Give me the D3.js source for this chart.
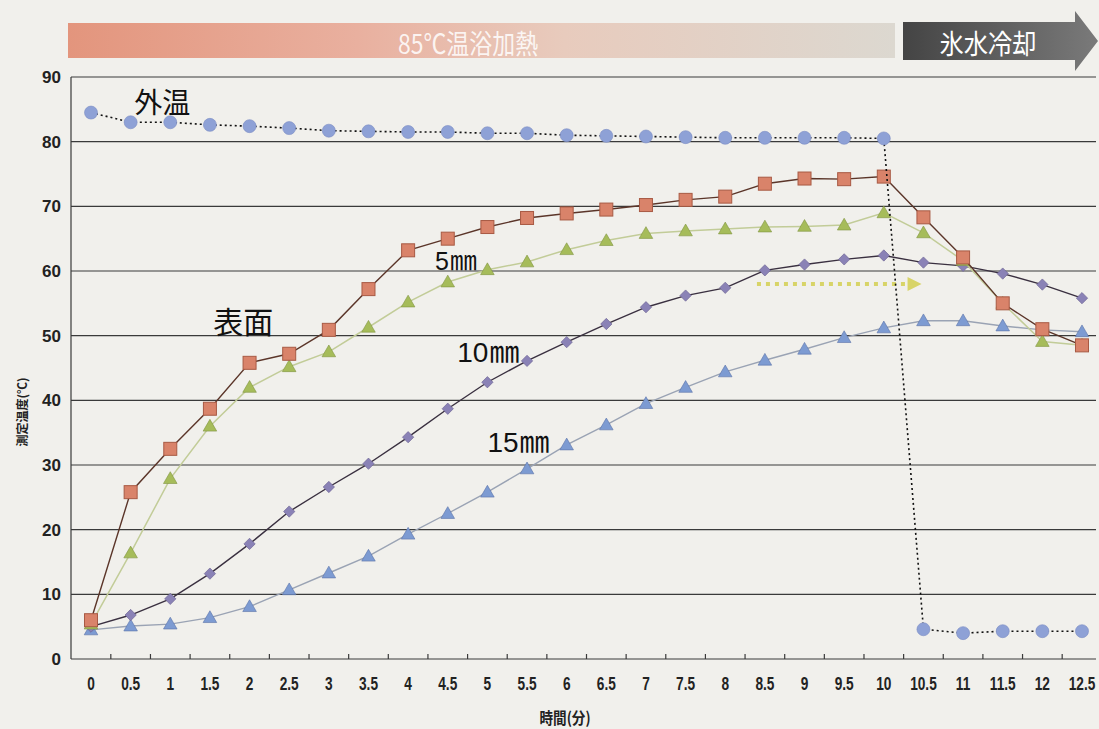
<!DOCTYPE html>
<html><head><meta charset="utf-8">
<script src="https://cdn.jsdelivr.net/npm/d3@7"></script>
<style>html,body{margin:0;padding:0;background:#f1f0ec;}svg{display:block;}</style>
</head><body><svg id="c" width="1099" height="729"></svg>
<script>
const times = [0,0.5,1,1.5,2,2.5,3,3.5,4,4.5,5,5.5,6,6.5,7,7.5,8,8.5,9,9.5,10,10.5,11,11.5,12,12.5];
const xTickLabels = ["0","0.5","1","1.5","2","2.5","3","3.5","4","4.5","5","5.5","6","6.5","7","7.5","8","8.5","9","9.5","10","10.5","11","11.5","12","12.5"];
const yTicks = [0,10,20,30,40,50,60,70,80,90];
const outside = [84.5,83.0,83.0,82.6,82.4,82.1,81.7,81.6,81.5,81.5,81.3,81.3,81.0,80.9,80.8,80.7,80.6,80.6,80.6,80.6,80.5,4.6,4.0,4.3,4.3,4.3];
const surface = [6.0,25.8,32.5,38.7,45.8,47.2,50.9,57.2,63.2,65.0,66.8,68.2,68.9,69.5,70.2,71.0,71.5,73.5,74.3,74.2,74.6,68.3,62.1,55.0,51.0,48.5];
const mm5 = [5.4,16.4,27.9,36.0,42.0,45.2,47.5,51.3,55.2,58.3,60.2,61.4,63.3,64.7,65.8,66.2,66.5,66.8,66.9,67.1,69.0,65.9,61.6,55.0,49.1,48.5];
const mm10 = [5.0,6.8,9.3,13.2,17.8,22.8,26.6,30.2,34.3,38.7,42.8,46.1,49.0,51.8,54.4,56.2,57.4,60.1,61.0,61.8,62.4,61.3,60.8,59.6,57.9,55.8];
const mm15 = [4.5,5.1,5.4,6.4,8.1,10.7,13.3,15.9,19.3,22.5,25.8,29.4,33.1,36.2,39.5,42.0,44.4,46.2,47.9,49.7,51.2,52.3,52.3,51.5,50.9,50.6];
const wordLabels = ["外温","表面"];
const wordX = [0.9,1.92];
const wordY = [86.3,52.4];
const depthNums = ["5","10","15"];
const depthUnit = "㎜";
const depthX = [4.34,4.62,5.0];
const depthY = [60.2,45.9,32.0];
const xTitle = "時間(分)";
const yTitle = "測定温度(℃)";
const bannerHeat = "85℃温浴加熱";
const bannerCool = "氷水冷却";

const svg = d3.select("#c");
const x = d3.scaleLinear().domain([0,12.5]).range([91,1082]);
const y = d3.scaleLinear().domain([0,90]).range([659,77]);
const left = 71, right = 1096;
const sans = "'Liberation Sans', Arimo, Arial, 'DejaVu Sans', sans-serif";
const cjk = "'Noto Sans CJK JP'";

// banner
const defs = svg.append("defs");
const g1 = defs.append("linearGradient").attr("id","heat");
g1.append("stop").attr("offset","0%").attr("stop-color","#e3957d");
g1.append("stop").attr("offset","35%").attr("stop-color","#e9b09f");
g1.append("stop").attr("offset","60%").attr("stop-color","#e8cbbd");
g1.append("stop").attr("offset","100%").attr("stop-color","#dcd8d0");
svg.append("rect").attr("x",68).attr("y",23).attr("width",827).attr("height",35).attr("fill","url(#heat)");
svg.append("text").attr("transform","translate(468,54) scale(0.85,1)").attr("text-anchor","middle")
  .attr("font-family",cjk).attr("font-size",27).attr("fill","#fff").attr("fill-opacity",0.85).text(bannerHeat);
const g2 = defs.append("linearGradient").attr("id","cool");
g2.append("stop").attr("offset","0%").attr("stop-color","#444");
g2.append("stop").attr("offset","100%").attr("stop-color","#7a7a7a");
svg.append("path").attr("d","M903,22 L1075,22 L1075,11 L1098,41 L1075,71 L1075,60 L903,60 Z").attr("fill","url(#cool)");
svg.append("text").attr("transform","translate(988,54) scale(0.9,1)").attr("text-anchor","middle")
  .attr("font-family",cjk).attr("font-size",27).attr("fill","#fff").text(bannerCool);

// grid
svg.append("g").selectAll("line").data(yTicks).join("line")
  .attr("x1",left).attr("x2",right).attr("y1",d=>y(d)).attr("y2",d=>y(d))
  .attr("stroke","#3a3a3a").attr("stroke-width",1.2);
svg.append("line").attr("x1",left).attr("x2",left).attr("y1",y(90)).attr("y2",y(0)).attr("stroke","#3a3a3a").attr("stroke-width",1.2);
const tickPos = times.slice(0,25).map(t=>t+0.25);
svg.append("g").selectAll("line").data(tickPos).join("line")
  .attr("x1",d=>x(d)).attr("x2",d=>x(d)).attr("y1",y(0)).attr("y2",y(0)-5)
  .attr("stroke","#3a3a3a").attr("stroke-width",1.2);
// y labels
svg.append("g").selectAll("text").data(yTicks).join("text")
  .attr("x",61).attr("y",d=>y(d)+6).attr("text-anchor","end")
  .attr("font-family",sans).attr("font-weight","bold").attr("font-size",17).attr("fill","#222").text(d=>d);
// x labels (condensed)
svg.append("g").selectAll("text").data(times).join("text")
  .attr("transform",d=>`translate(${x(d)},690) scale(0.72,1)`).attr("text-anchor","middle")
  .attr("font-family",sans).attr("font-weight","bold").attr("font-size",19).attr("fill","#222")
  .text((d,i)=>xTickLabels[i]);
svg.append("text").attr("transform","translate(565,724) scale(0.85,1)").attr("text-anchor","middle")
  .attr("font-family",cjk).attr("font-weight","bold").attr("font-size",16).attr("fill","#222").text(xTitle);
svg.append("text").attr("transform","translate(27,412) rotate(-90)").attr("text-anchor","middle")
  .attr("font-family",cjk).attr("font-weight","bold").attr("font-size",12).attr("fill","#222").text(yTitle);

// yellow arrow annotation
const arrY = 58, arrX0 = 8.4, arrX1 = 10.3;
svg.append("line").attr("x1",x(arrX0)).attr("x2",x(arrX1)).attr("y1",y(arrY)).attr("y2",y(arrY))
  .attr("stroke","#d8d468").attr("stroke-width",4).attr("stroke-dasharray","4,5");
svg.append("path").attr("d",`M${x(arrX1)},${y(arrY)-7} L${x(arrX1)+14},${y(arrY)} L${x(arrX1)},${y(arrY)+7} Z`).attr("fill","#d8d468");

const line = d3.line().x((d,i)=>x(times[i])).y(d=>y(d));
function drawLine(vals, color, w, dash){
  svg.append("path").attr("d",line(vals)).attr("fill","none").attr("stroke",color).attr("stroke-width",w)
    .attr("stroke-dasharray",dash||null);
}
const tri = d3.symbol().type(d3.symbolTriangle).size(80);
const sq = d3.symbol().type(d3.symbolSquare).size(64);

// 15mm
drawLine(mm15,"#9aa3b4",1.4);
svg.append("g").selectAll("path").data(mm15).join("path").attr("d",tri)
  .attr("transform",(d,i)=>`translate(${x(times[i])},${y(d)+1})`).attr("fill","#7d9bd2").attr("stroke","#5a72a8").attr("stroke-width",0.6);
// 10mm
drawLine(mm10,"#3a3040",1.4);
svg.append("g").selectAll("path").data(mm10).join("path").attr("d",sq)
  .attr("transform",(d,i)=>`translate(${x(times[i])},${y(d)}) rotate(45)`).attr("fill","#8a82b6").attr("stroke","#6a6090").attr("stroke-width",0.6);
// 5mm
drawLine(mm5,"#c2cc98",1.5);
svg.append("g").selectAll("path").data(mm5).join("path").attr("d",tri)
  .attr("transform",(d,i)=>`translate(${x(times[i])},${y(d)+1})`).attr("fill","#a6bc5a").attr("stroke","#7f9440").attr("stroke-width",0.6);
// surface
drawLine(surface,"#5b3529",1.4);
svg.append("g").selectAll("rect").data(surface).join("rect")
  .attr("x",(d,i)=>x(times[i])-6.5).attr("y",d=>y(d)-6.5).attr("width",13).attr("height",13)
  .attr("fill","#d9836a").attr("stroke","#a85a44").attr("stroke-width",1);
// outside
drawLine(outside,"#111",1.6,"2,3");
svg.append("g").selectAll("circle").data(outside).join("circle")
  .attr("cx",(d,i)=>x(times[i])).attr("cy",d=>y(d)).attr("r",6.5)
  .attr("fill","#8ea1d6").attr("stroke","#7a8cc2").attr("stroke-width",0.6);

// series labels
svg.append("g").selectAll("text").data(wordLabels).join("text")
  .attr("x",(d,i)=>x(wordX[i])).attr("y",(d,i)=>y(wordY[i])).attr("text-anchor","middle").attr("dominant-baseline","central")
  .attr("font-family",cjk).attr("font-size",(d,i)=>i===0?28:30).attr("fill","#111").text(d=>d);
const numSize = [25,28,28];
depthNums.forEach((n,i)=>{
  const t = svg.append("text").attr("x",x(depthX[i])).attr("y",y(depthY[i])).attr("fill","#111");
  t.append("tspan").attr("font-family",sans).attr("font-size",numSize[i]).text(n);
  t.append("tspan").attr("font-family",cjk).attr("font-size",numSize[i]+2).attr("dx",1).text(depthUnit);
});
</script></body></html>
